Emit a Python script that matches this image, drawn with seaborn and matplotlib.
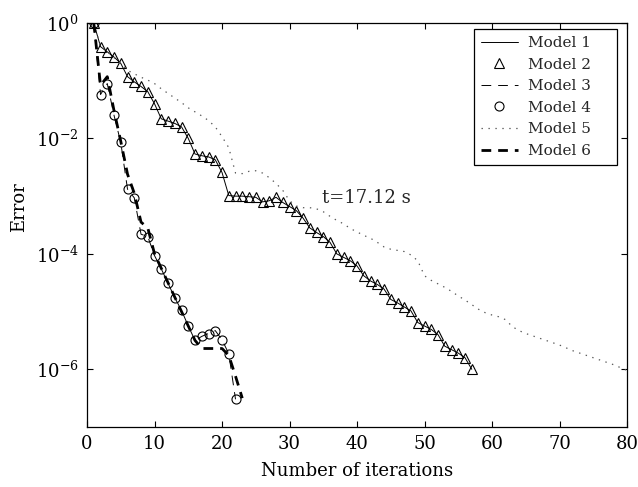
import numpy as np
import pandas as pd
import seaborn as sns

import matplotlib

matplotlib.use("Agg")
import matplotlib.pyplot as plt
from matplotlib.ticker import FixedLocator, LogFormatterSciNotation, NullLocator

# iterations and log10(error)
iters_m12 = list(range(1, 58))
log_m12 = [0.00, -0.41, -0.50, -0.59, -0.70, -0.93, -1.02, -1.10, -1.19, -1.40,
           -1.66, -1.70, -1.74, -1.80, -2.00, -2.27, -2.30, -2.32, -2.37, -2.59,
           -2.99, -3.00, -3.00, -3.01, -3.02, -3.10, -3.08, -3.02, -3.11, -3.18,
           -3.25, -3.38, -3.55, -3.63, -3.70, -3.80, -4.00, -4.06, -4.12, -4.21,
           -4.38, -4.47, -4.53, -4.61, -4.79, -4.85, -4.92, -4.99, -5.19, -5.25,
           -5.31, -5.40, -5.60, -5.66, -5.72, -5.80, -6.00]

iters_m3 = list(range(1, 23))
log_m3 = [0.00, -1.24, -1.05, -1.60, -2.07, -2.88, -3.03, -3.66, -3.70, -4.03,
          -4.26, -4.51, -4.76, -4.98, -5.25, -5.50, -5.43, -5.38, -5.33, -5.49,
          -5.73, -6.52]

iters_m4 = list(range(1, 23))
log_m4 = [0.00, -1.24, -1.05, -1.60, -2.07, -2.88, -3.03, -3.66, -3.70, -4.03,
          -4.26, -4.51, -4.76, -4.98, -5.25, -5.50, -5.43, -5.38, -5.33, -5.49,
          -5.73, -6.52]

iters_m5 = list(range(1, 81))
log_m5 = [0.00, -0.40, -0.50, -0.60, -0.70, -0.82, -0.88, -0.94, -0.99, -1.05,
          -1.14, -1.22, -1.30, -1.38, -1.47, -1.54, -1.61, -1.69, -1.80, -1.97,
          -2.16, -2.60, -2.61, -2.57, -2.56, -2.60, -2.68, -2.78, -2.90, -3.08,
          -3.17, -3.20, -3.20, -3.22, -3.27, -3.35, -3.42, -3.48, -3.56, -3.62,
          -3.68, -3.73, -3.80, -3.88, -3.92, -3.94, -3.96, -4.02, -4.12, -4.38,
          -4.46, -4.52, -4.58, -4.65, -4.73, -4.80, -4.88, -4.96, -5.02, -5.06,
          -5.09, -5.14, -5.26, -5.33, -5.38, -5.42, -5.46, -5.50, -5.54, -5.58,
          -5.63, -5.68, -5.72, -5.76, -5.80, -5.84, -5.88, -5.92, -5.97, -6.02]

iters_m6 = list(range(1, 24))
log_m6 = [0.00, -1.08, -0.93, -1.52, -2.05, -2.62, -2.95, -3.45, -3.55, -4.00,
          -4.25, -4.50, -4.75, -5.00, -5.25, -5.50, -5.64, -5.64, -5.64, -5.64,
          -5.76, -6.12, -6.50]

note_text = "t=17.12 s"
note_x, note_log = 34.8, -3.04

x_ticks = [0, 10, 20, 30, 40, 50, 60, 70, 80]
y_ticks = [1e-6, 1e-4, 1e-2, 1e0]

sns.set_theme(style="ticks")
plt.rcParams["font.family"] = ["DejaVu Serif"]
plt.rcParams["mathtext.fontset"] = "dejavuserif"
plt.rcParams["lines.scale_dashes"] = False

fig = plt.figure(figsize=(6.38, 4.87), dpi=100)
ax = fig.add_axes([0.1364, 0.1232, 0.8464, 0.8296])


def err(vals):
    return np.power(10.0, np.asarray(vals))


sns.lineplot(x=iters_m12, y=err(log_m12), ax=ax, color="black", lw=0.7,
             label="Model 1")
sns.lineplot(x=iters_m12, y=err(log_m12), ax=ax, color="black", linestyle="",
             marker="^", markersize=7.5, markerfacecolor="none",
             markeredgecolor="black", markeredgewidth=0.8, label="Model 2")
sns.lineplot(x=iters_m3, y=err(log_m3), ax=ax, color="black", lw=0.7,
             linestyle=(0, (7, 5)), label="Model 3")
sns.lineplot(x=iters_m4, y=err(log_m4), ax=ax, color="black", linestyle="",
             marker="o", markersize=6.5, markerfacecolor="none",
             markeredgecolor="black", markeredgewidth=0.8, label="Model 4")
sns.lineplot(x=iters_m5, y=err(log_m5), ax=ax, color="0.35", lw=0.9,
             linestyle=(0, (1, 4)), label="Model 5")
sns.lineplot(x=iters_m6, y=err(log_m6), ax=ax, color="black", lw=2.0,
             linestyle=(0, (7, 5)), label="Model 6")

ax.text(note_x, 10 ** note_log, note_text, fontsize=13, va="center", ha="left")

ax.set_yscale("log")
ax.set_xlim(0, 80)
ax.set_ylim(1e-7, 1)
ax.xaxis.set_major_locator(FixedLocator(x_ticks))
ax.yaxis.set_major_locator(FixedLocator(y_ticks))
ax.yaxis.set_major_formatter(LogFormatterSciNotation())
ax.yaxis.set_minor_locator(NullLocator())
ax.xaxis.set_minor_locator(NullLocator())

ax.tick_params(direction="in", top=True, right=True, length=4, width=0.8,
               labelsize=13, pad=6, colors="black")
for side in ax.spines.values():
    side.set_visible(True)
    side.set_linewidth(0.9)
    side.set_color("black")

ax.set_xlabel("Number of iterations", fontsize=13, color="black", labelpad=6)
ax.set_ylabel("Error", fontsize=13, color="black")
ax.yaxis.set_label_coords(-0.11, 0.545)

leg = ax.legend(loc="upper left", bbox_to_anchor=(0.7167, 0.0, 0.2648, 0.985),
                mode="expand", borderaxespad=0, fontsize=11, frameon=True,
                fancybox=False, framealpha=1, edgecolor="black",
                handlelength=2.4, handletextpad=0.7, borderpad=0.45,
                labelspacing=0.5)
leg.get_frame().set_linewidth(0.9)

fig.savefig("out.png", dpi=100)
